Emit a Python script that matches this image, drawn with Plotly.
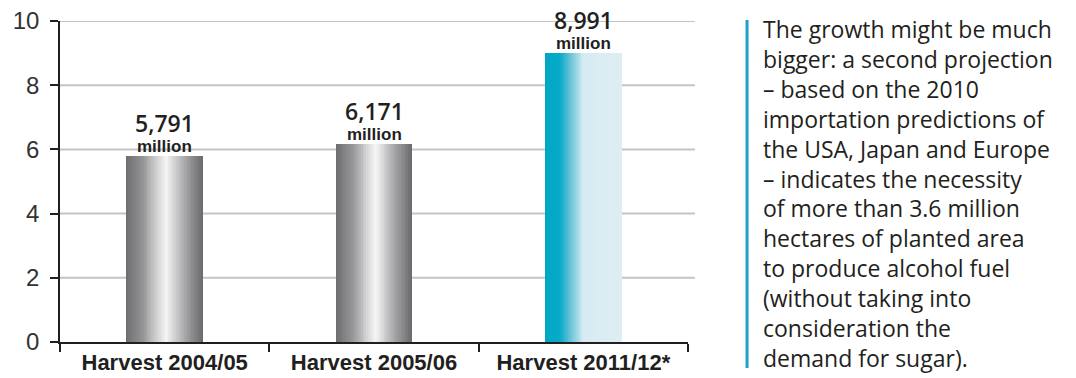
import plotly.graph_objects as go

# ---- data ----
categories = ["Harvest 2004/05", "Harvest 2005/06", "Harvest 2011/12*"]
values = [5.791, 6.171, 8.991]
value_labels = ["5,791", "6,171", "8,991"]
unit_label = "million"
y_ticks = [0, 2, 4, 6, 8, 10]
side_text_lines = [
    "The growth might be much",
    "bigger: a second projection",
    "– based on the 2010",
    "importation predictions of",
    "the USA, Japan and Europe",
    "– indicates the necessity",
    "of more than 3.6 million",
    "hectares of planted area",
    "to produce alcohol fuel",
    "(without taking into",
    "consideration the",
    "demand for sugar).",
]

# ---- style ----
GRAY_STOPS = [(0.0, (0x6e, 0x6e, 0x70)), (0.22, (0x96, 0x96, 0x98)), (0.40, (0xd2, 0xd2, 0xd3)),
              (0.52, (0xf6, 0xf6, 0xf6)), (0.62, (0xd6, 0xd6, 0xd7)), (0.80, (0x9c, 0x9c, 0x9e)),
              (1.0, (0x6a, 0x6a, 0x6c))]
TEAL_STOPS = [(0.0, (0x00, 0xa8, 0xc6)), (0.2, (0x08, 0xaa, 0xc8)), (0.33, (0x6a, 0xc2, 0xd8)),
              (0.5, (0xd6, 0xec, 0xf2)), (1.0, (0xde, 0xee, 0xf3))]
bar_styles = [GRAY_STOPS, GRAY_STOPS, TEAL_STOPS]
BAR_W = 0.365
N_STRIPS = 40


def interp(stops, t):
    for (t0, c0), (t1, c1) in zip(stops[:-1], stops[1:]):
        if t0 <= t <= t1:
            f = (t - t0) / (t1 - t0) if t1 > t0 else 0
            c = [round(a + (b - a) * f) for a, b in zip(c0, c1)]
            return "rgb(%d,%d,%d)" % tuple(c)
    return "rgb(%d,%d,%d)" % stops[-1][1]


fig = go.Figure()
sw = BAR_W / N_STRIPS
for i in range(N_STRIPS):
    t = (i + 0.5) / N_STRIPS
    fig.add_trace(go.Bar(
        x=categories, y=values,
        width=sw * 1.15, offset=-BAR_W / 2 + i * sw,
        marker=dict(color=[interp(s, t) for s in bar_styles], line=dict(width=0)),
        showlegend=False, hoverinfo="skip",
    ))

# gridlines (extend slightly beyond the x axis end)
for v in y_ticks[1:]:
    fig.add_shape(type="line", xref="paper", yref="y", x0=0, x1=1.011, y0=v, y1=v,
                  line=dict(color="#c4c4c4", width=2), layer="below")

for c, v, lab in zip(categories, values, value_labels):
    fig.add_annotation(x=c, y=v, text="<b>" + unit_label + "</b>", showarrow=False,
                       yanchor="bottom", yshift=-2,
                       font=dict(family="Liberation Sans", size=17, color="#231f20"))
    fig.add_annotation(x=c, y=v, text=lab, showarrow=False, yanchor="bottom", yshift=15,
                       font=dict(family="Open Sans", size=23, color="#231f20", weight=600))

# side text and blue rule
fig.add_shape(type="line", xref="paper", yref="paper", x0=1.094, x1=1.094, y0=1.003, y1=-0.081,
              line=dict(color="#1ba3c6", width=3))
fig.add_annotation(xref="paper", yref="paper", x=1.116, y=(342 - 193.5) / 321,
                   xanchor="left", yanchor="middle", align="left",
                   text="<br>".join(side_text_lines), showarrow=False,
                   font=dict(family="Open Sans", size=23, color="#231f20", weight=500))

fig.update_layout(
    width=1076, height=378,
    margin=dict(l=60, r=388, t=21, b=36, autoexpand=False),
    paper_bgcolor="white", plot_bgcolor="white",
    barmode="overlay", bargap=0,
    xaxis=dict(type="category", range=[-0.5, 2.5], tickson="boundaries", ticks="outside",
               ticklen=8, tickcolor="#231f20", tickwidth=1.5, showline=True,
               linecolor="#231f20", linewidth=1.5, showgrid=False, automargin=False,
               tickfont=dict(family="Liberation Sans", size=22, color="#231f20", weight="bold")),
    yaxis=dict(range=[0, 10], tickvals=y_ticks, ticks="outside", ticklen=8,
               tickcolor="#231f20", tickwidth=1.5, showline=True, linecolor="#231f20",
               linewidth=1.5, showgrid=False, zeroline=False, automargin=False,
               ticklabelstandoff=6,
               tickfont=dict(family="Liberation Sans", size=24, color="#333333")),
)

fig.write_html("out.html")
